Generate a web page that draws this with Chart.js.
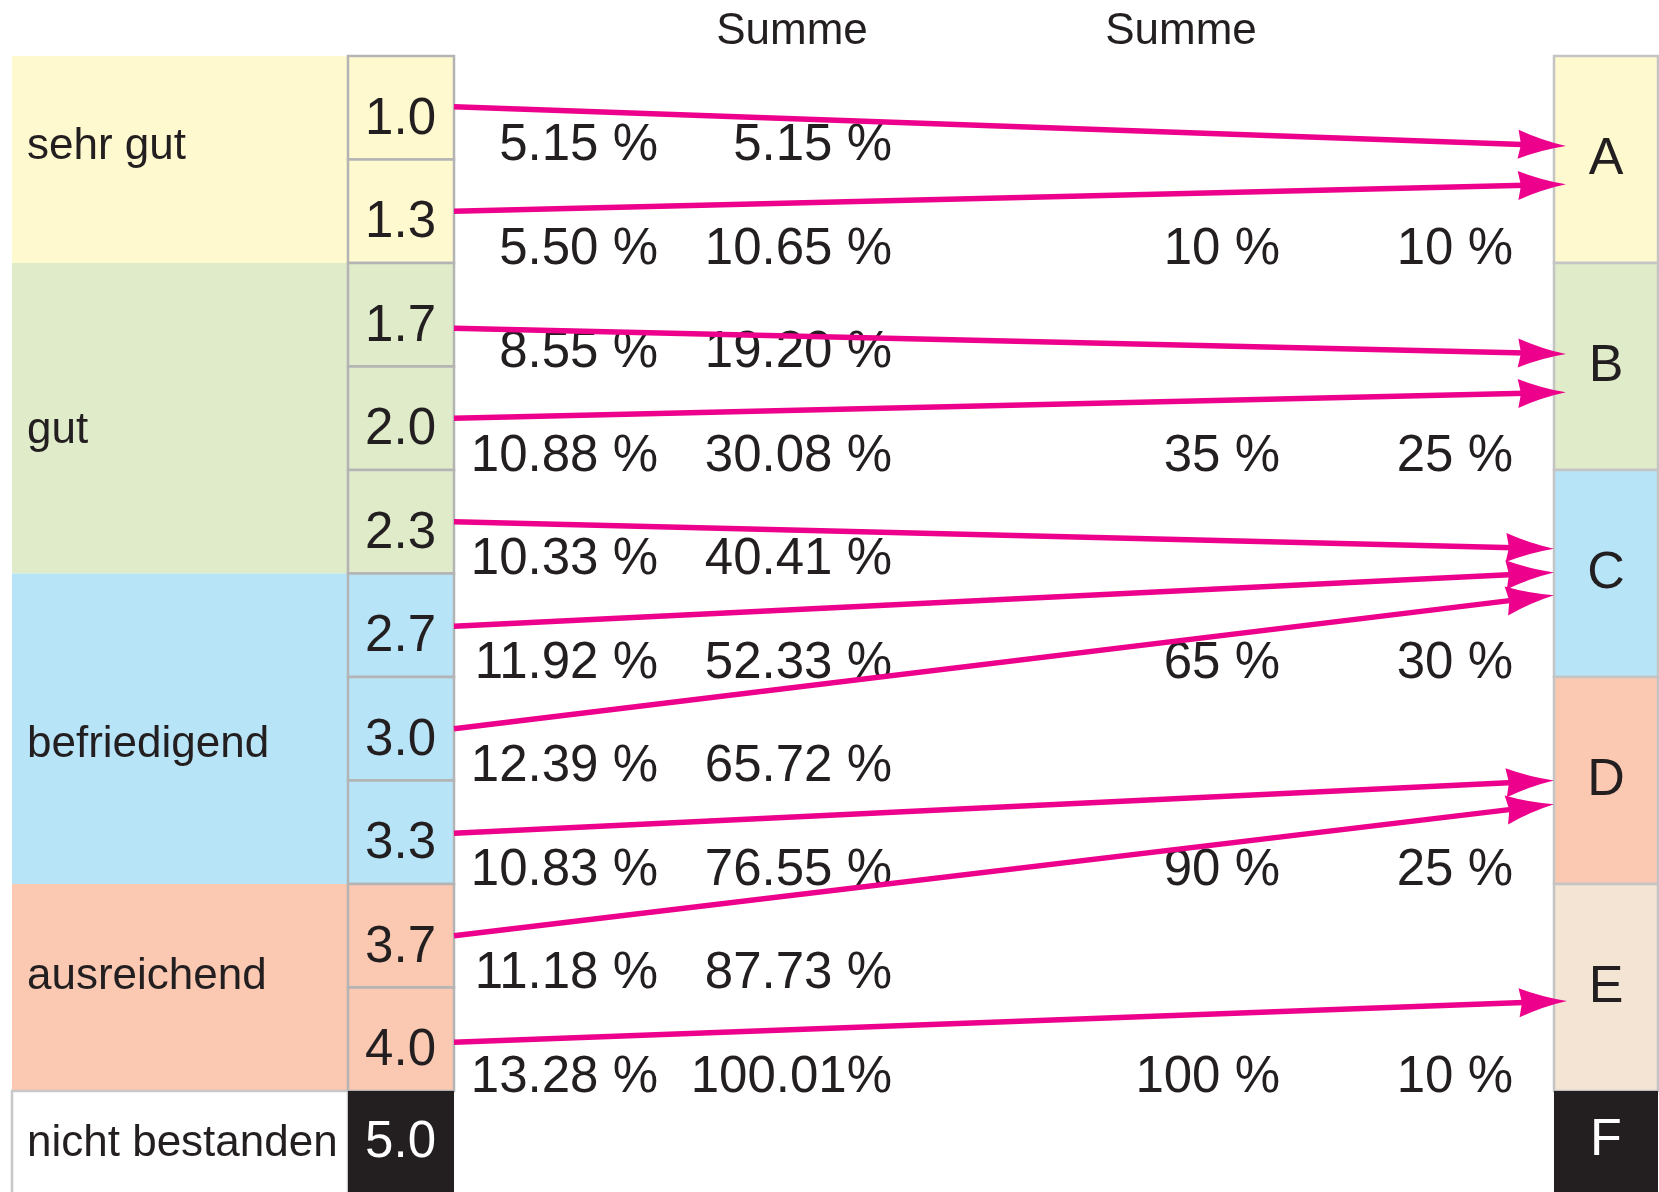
<!DOCTYPE html>
<html>
<head>
<meta charset="utf-8">
<script src="https://cdn.jsdelivr.net/npm/chart.js@4"></script>
<style>
  html, body { margin: 0; padding: 0; background: #fff; }
  canvas { display: block; }
</style>
</head>
<body>
<canvas id="grade-chart" width="1659" height="1192"></canvas>
<script>
// grades (left) and their shares
const grades = ['1.0', '1.3', '1.7', '2.0', '2.3', '2.7', '3.0', '3.3', '3.7', '4.0', '5.0'];
const gradeShares = [5.15, 5.50, 8.55, 10.88, 10.33, 11.92, 12.39, 10.83, 11.18, 13.28];
const gradeSums = [5.15, 10.65, 19.20, 30.08, 40.41, 52.33, 65.72, 76.55, 87.73, 100.01];

// verbal groups, spanning grade rows
const verbalGroups = ['sehr gut', 'gut', 'befriedigend', 'ausreichend', 'nicht bestanden'];
const verbalRows = [[0, 2], [2, 5], [5, 8], [8, 10], [10, 11]];

// letter grades (right), their shares and running sums
const letters = ['A', 'B', 'C', 'D', 'E', 'F'];
const letterRows = [[0, 2], [2, 4], [4, 6], [6, 8], [8, 10], [10, 11]];
const letterSums = [10, 35, 65, 90, 100];
const letterShares = [10, 25, 30, 25, 10];
const letterLabelRows = [1, 3, 5, 7, 9];

// arrows: grade row position -> letter box position
const arrowFrom = [0.49, 1.50, 2.63, 3.50, 4.50, 5.51, 6.50, 7.51, 8.50, 9.53];
const arrowTo = [0.87, 1.24, 2.88, 3.25, 4.76, 4.99, 5.21, 7.00, 7.23, 9.13];
const arrowTarget = ['A', 'A', 'B', 'B', 'C', 'C', 'C', 'D', 'D', 'E'];

// layout (x in canvas-wide units, y in rows)
const fills = ['#FEF9CE', '#DFEBC9', '#B8E4F8', '#FBC8B2', '#FFFFFF'];
const letterFills = ['#FEF9CE', '#DFEBC9', '#B8E4F8', '#FBC8B2', '#F3E4D4', '#231F20'];
const dark = '#231F20';
const pink = '#EC008C';
const border = '#B4B4B4';
const font = "'Liberation Sans', Arial, Helvetica, sans-serif";
const L = {
  labelLeft: 12, labelText: 27, gradeLeft: 348, gradeRight: 454, gradeText: 436,
  shareRight: 658, sumRight: 892, letterSumRight: 1280, letterShareRight: 1513,
  letterLeft: 1554, letterRight: 1658, letterText: 1606,
  summeX: [792, 1181], summeY: -0.27,
  verbalBase: [1.0, 3.74, 6.77, 9.01, 10.63],
  tipX: { A: 1566, B: 1566, C: 1554, D: 1554, E: 1567 }
};

const fmtShare = v => v.toFixed(2) + ' %';
const fmtSum = v => v >= 100 ? v.toFixed(2) + '%' : v.toFixed(2) + ' %';

const groupOfRow = r => verbalRows.findIndex(g => r >= g[0] && r < g[1]);

const diagramPlugin = {
  id: 'diagram',
  beforeDatasetsDraw(chart) {
    const { ctx, scales: { x, y } } = chart;
    const px = v => x.getPixelForValue(v);
    const py = v => y.getPixelForValue(v);
    const rect = (x0, x1, r0, r1, fill, stroke) => {
      const left = px(x0), top = py(r0), w = px(x1) - left, h = py(r1) - top;
      ctx.fillStyle = fill;
      ctx.fillRect(left, top, w, h);
      if (stroke) {
        ctx.strokeStyle = stroke;
        ctx.lineWidth = 2.5;
        ctx.strokeRect(left, top, w, h);
      }
    };
    const text = (s, xv, yv, align, size, color) => {
      ctx.font = `${size}px ${font}`;
      ctx.fillStyle = color || dark;
      ctx.textAlign = align;
      ctx.textBaseline = 'alphabetic';
      ctx.fillText(s, px(xv), py(yv));
    };
    ctx.save();

    // verbal groups
    verbalGroups.forEach((g, i) => {
      const [r0, r1] = verbalRows[i];
      rect(L.labelLeft, L.gradeLeft, r0, r1, fills[i], i == verbalGroups.length - 1 ? '#C8C8C8' : null);
      text(g, L.labelText, L.verbalBase[i], 'left', 44);
    });

    // grade boxes
    grades.forEach((g, r) => {
      const last = r == grades.length - 1;
      rect(L.gradeLeft, L.gradeRight, r, r + 1, last ? dark : fills[groupOfRow(r)], last ? null : border);
      text(g, L.gradeText, last ? r + 0.64 : r + 0.75, 'right', 51, last ? '#FFFFFF' : dark);
    });

    // letter boxes
    letters.forEach((l, i) => {
      const [r0, r1] = letterRows[i];
      const last = i == letters.length - 1;
      rect(L.letterLeft, L.letterRight, r0, r1, letterFills[i], last ? null : '#C4C4C4');
      const mid = (r0 + Math.min(r1, 10.955)) / 2;
      text(l, L.letterText, mid + 0.145, 'center', 52, last ? '#FFFFFF' : dark);
    });

    // headers
    L.summeX.forEach(sx => text('Summe', sx, L.summeY + 0.15, 'center', 44));

    // percentages per grade
    gradeShares.forEach((v, r) => {
      text(fmtShare(v), L.shareRight, r + 1.005, 'right', 51);
      text(fmtSum(gradeSums[r]), L.sumRight, r + 1.005, 'right', 51);
    });

    // percentages per letter
    letterSums.forEach((v, i) => {
      const r = letterLabelRows[i];
      text(v + ' %', L.letterSumRight, r + 1.005, 'right', 51);
      text(letterShares[i] + ' %', L.letterShareRight, r + 1.005, 'right', 51);
    });
    ctx.restore();
  },
  afterDatasetsDraw(chart) {
    const { ctx, scales: { x, y } } = chart;
    ctx.save();
    ctx.fillStyle = pink;
    arrowFrom.forEach((f, i) => {
      const sx = x.getPixelForValue(L.gradeRight), sy = y.getPixelForValue(f);
      const tx = x.getPixelForValue(L.tipX[arrowTarget[i]]), ty = y.getPixelForValue(arrowTo[i]);
      const a = Math.atan2(ty - sy, tx - sx);
      ctx.save();
      ctx.translate(tx, ty);
      ctx.rotate(a);
      ctx.beginPath();
      ctx.moveTo(0, 0);
      ctx.quadraticCurveTo(-24, -4.5, -48, -14.5);
      ctx.lineTo(-45, 0);
      ctx.lineTo(-48, 14.5);
      ctx.quadraticCurveTo(-24, 4.5, 0, 0);
      ctx.closePath();
      ctx.fill();
      ctx.restore();
    });
    ctx.restore();
  }
};

const arrowSets = arrowFrom.map((f, i) => {
  const x0 = L.gradeRight, x1 = L.tipX[arrowTarget[i]];
  const xe = x1 - 30;
  const ye = f + (arrowTo[i] - f) * (xe - x0) / (x1 - x0);
  return {
    data: [{ x: x0, y: f }, { x: xe, y: ye }],
    showLine: true,
    borderColor: pink,
    backgroundColor: pink,
    borderWidth: 5.5,
    pointRadius: 0,
    tension: 0,
    fill: false
  };
});

new Chart(document.getElementById('grade-chart').getContext('2d'), {
  type: 'scatter',
  data: { datasets: arrowSets },
  options: {
    responsive: false,
    animation: false,
    events: [],
    layout: { padding: 0 },
    plugins: {
      legend: { display: false },
      tooltip: { enabled: false }
    },
    scales: {
      x: { type: 'linear', display: false, min: 0, max: 1659 },
      y: { type: 'linear', display: false, reverse: true, min: -0.541, max: 10.976 }
    }
  },
  plugins: [diagramPlugin]
});
</script>
</body>
</html>
